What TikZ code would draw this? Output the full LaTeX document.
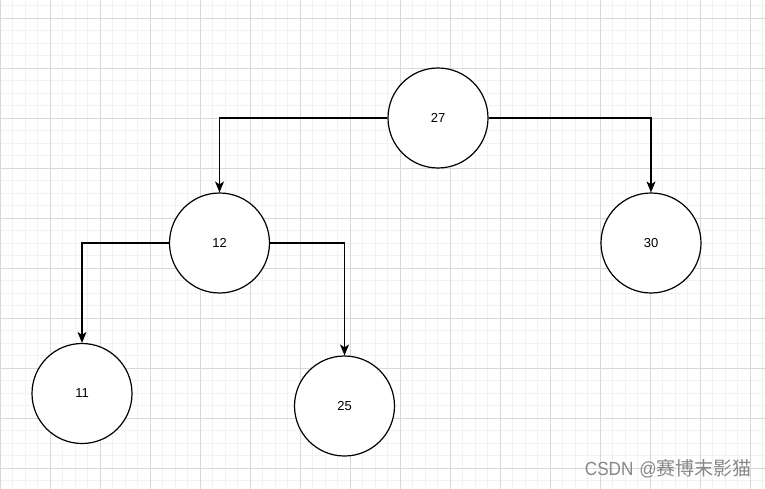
\documentclass[tikz,border=0pt]{standalone}
\usepackage{fontspec}
\setmainfont{Liberation Sans}
\newfontfamily\cjkfont{Noto Sans CJK SC}
\usetikzlibrary{arrows.meta}
\definecolor{minorgrid}{RGB}{242,242,242}
\definecolor{majorgrid}{RGB}{216,216,216}
\definecolor{wmgray}{RGB}{135,135,135}
\begin{document}
\begin{tikzpicture}[x=1pt,y=-1pt,
  treenode/.style={circle,draw=black,line width=1.2pt,fill=white,minimum size=100pt,inner sep=0pt,font=\fontsize{13}{15}\selectfont},
  link/.style={draw=black,line width=1.1pt,-{Stealth[length=11pt,width=9pt,inset=3pt]}},
]
\useasboundingbox (0,0) rectangle (765,489);
\fill[white] (0,0) rectangle (765,489);
% minor grid
\foreach \i in {0,...,61} {\draw[minorgrid,line width=0.9pt] (12.5*\i,0) -- (12.5*\i,489);}
\foreach \j in {0,...,39} {\draw[minorgrid,line width=0.9pt] (0,5.5+12.5*\j) -- (765,5.5+12.5*\j);}
% major grid
\foreach \i in {0,...,15} {\draw[majorgrid,line width=0.9pt] (50*\i+0.5,0) -- (50*\i+0.5,489);}
\foreach \j in {0,...,9} {\draw[majorgrid,line width=0.9pt] (0,18+50*\j) -- (765,18+50*\j);}
% nodes
\node[treenode] (n27) at (438,118) {27};
\node[treenode] (n12) at (219.5,243) {12};
\node[treenode] (n30) at (651,243) {30};
\node[treenode] (n11) at (82,393.5) {11};
\node[treenode] (n25) at (344.5,406) {25};
% connectors
\draw[link] (n27.west) -| (n12.north);
\draw[link] (n27.east) -| (n30.north);
\draw[link] (n12.west) -| (n11.north);
\draw[link] (n12.east) -| (n25.north);
% watermark
\node[anchor=east,text=wmgray,inner sep=0pt] (wm) at (752,469) {\fontsize{19}{21}\selectfont\scalebox{0.9}[1]{CSDN}\hspace{6pt}\scalebox{0.9}[1]{@}{\cjkfont 赛博末影猫}};
\end{tikzpicture}
\end{document}
